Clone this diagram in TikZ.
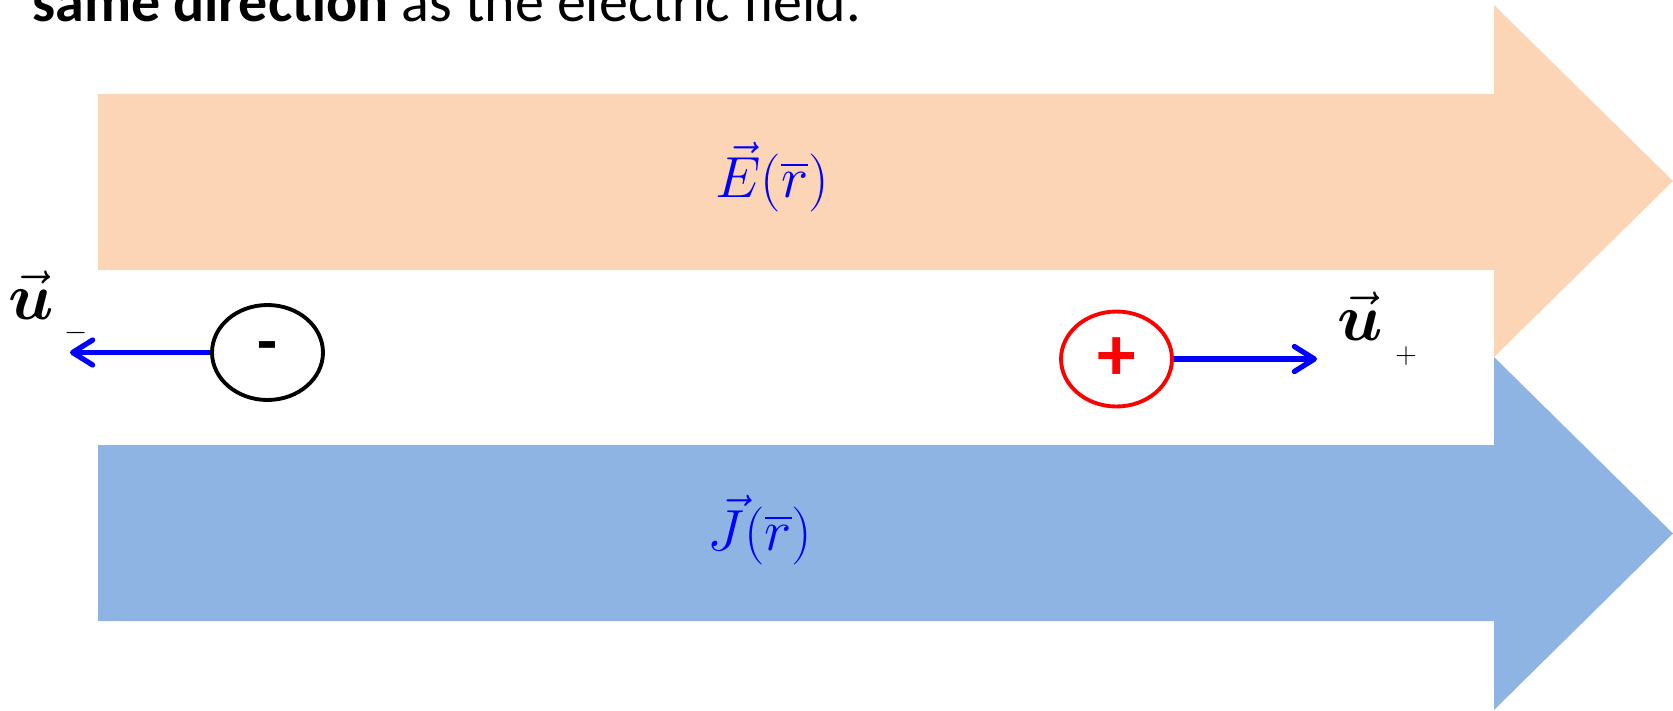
\RequirePackage{fix-cm}
\documentclass[tikz,border=0pt]{standalone}
\usepackage{amsmath, amssymb}
\usepackage{fontspec}
\setmainfont{Carlito}
\usetikzlibrary{shapes.geometric, arrows.meta}
\definecolor{efieldcol}{HTML}{FBD5B5}
\definecolor{jfieldcol}{HTML}{8EB4E3}
\tikzset{
    charge/.style={draw, ellipse, line width=2.2pt, minimum width=2.22cm, minimum height=1.9cm, inner sep=0pt},
    velocity/.style={draw=blue, line width=3pt, -{Straight Barb[length=0.4cm, width=0.5cm, round]}},
    fieldlabel/.style={text=blue, font=\fontsize{33}{40}\selectfont},
    ulabel/.style={font=\fontsize{38}{44}\selectfont, inner sep=0pt},
    sublabel/.style={font=\fontsize{17}{20}\selectfont, inner sep=0pt}
}

\begin{document}
\begin{tikzpicture}[x=0.02cm, y=-0.02cm]
\useasboundingbox (0,0) rectangle (1673,710);
\fill[efieldcol] (98,94) -- (1494,94) -- (1494,5) -- (1673,181) -- (1494,357) -- (1494,270) -- (98,270) -- cycle;
\fill[jfieldcol] (98,445) -- (1494,445) -- (1494,357) -- (1673,533.5) -- (1494,710) -- (1494,621) -- (98,621) -- cycle;
\node[anchor=base west, inner sep=0pt, font=\fontsize{33}{40}\selectfont] (caption) at (32,21) {\textbf{same direction} as the electric field.};
\node[fieldlabel] (efield) at (772,177) {$\vec{E}(\overline{r})$};
\node[fieldlabel] (jfield) at (760,530) {$\vec{J}(\overline{r})$};
\node[charge, draw=black] (neg) at (267.5,352.5) {\fontsize{37}{40}\selectfont\bfseries -};
\node[charge, draw=red, text=red] (pos) at (1116.5,359) {\fontsize{44}{48}\selectfont\bfseries +};
\coordinate (negtip) at (70,352.5);
\coordinate (postip) at (1317,359);
\draw[velocity] (neg.west) -- (negtip);
\draw[velocity] (pos.east) -- (postip);
\node[ulabel] (uneg) at (31,295) {$\vec{\boldsymbol{u}}$};
\node[sublabel] (uneglbl) at (76,333) {$-$};
\node[ulabel] (upos) at (1360,316) {$\vec{\boldsymbol{u}}$};
\node[sublabel] (uposlbl) at (1406,356) {$+$};
\end{tikzpicture}
\end{document}
